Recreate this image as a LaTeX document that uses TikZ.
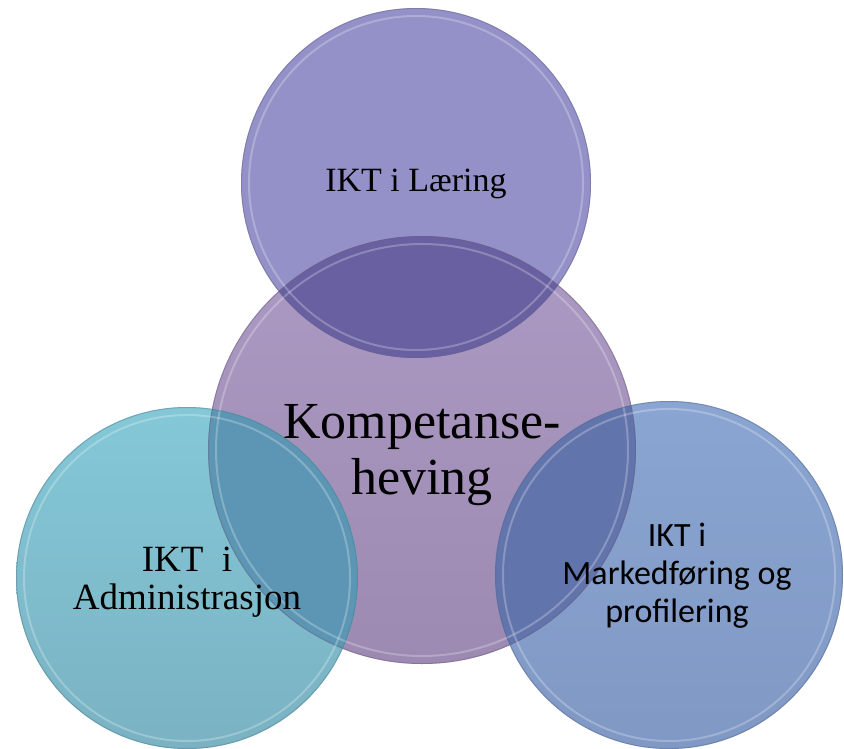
\documentclass[tikz,border=0pt]{standalone}
\usepackage{fontspec}
\setmainfont{Liberation Serif}
\newfontfamily\calibri{Carlito}
\usepackage{xcolor}
\definecolor{cmptop}{RGB}{172,154,196}
\definecolor{cmpbot}{RGB}{156,138,178}
\definecolor{lrnfill}{RGB}{148,145,200}
\definecolor{lrnlens}{RGB}{104,96,160}
\definecolor{admtop}{RGB}{132,200,215}
\definecolor{admbot}{RGB}{122,178,195}
\definecolor{admlens}{RGB}{92,150,180}
\definecolor{mkttop}{RGB}{138,165,210}
\definecolor{mktbot}{RGB}{128,152,196}
\definecolor{mktlens}{RGB}{98,116,172}

\begin{document}
\begin{tikzpicture}[x=1pt,y=-1pt,
  bubble/.style={circle,inner sep=0pt},
  rim/.style={white,opacity=.25,line width=2pt},
  edge/.style={opacity=.45,line width=1pt}]
  \useasboundingbox (0,0) rectangle (844,748);

  % the four bubbles
  \node[bubble,minimum size=428pt,top color=cmptop,bottom color=cmpbot] (cmp) at (422,450) {};
  \node[bubble,minimum size=350pt,fill=lrnfill] (lrn) at (416,183) {};
  \node[bubble,minimum size=342pt,top color=admtop,bottom color=admbot] (adm) at (187,578) {};
  \node[bubble,minimum size=348pt,top color=mkttop,bottom color=mktbot] (mkt) at (669,575) {};

  % overlaps with the middle one
  \begin{scope}
    \clip (cmp) circle[radius=214pt];
    \fill[lrnlens] (lrn) circle[radius=175pt];
    \fill[admlens] (adm) circle[radius=171pt];
    \fill[mktlens] (mkt) circle[radius=174pt];
  \end{scope}

  % glossy rims
  \foreach \n/\r/\c in {cmp/214pt/cmpbot,lrn/175pt/lrnfill,adm/171pt/admbot,mkt/174pt/mktbot} {
    \draw[rim] (\n) circle[radius=\r-8pt];
    \draw[edge,draw=\c!70!black] (\n) circle[radius=\r-.5pt];
  }

  % labels
  \node[font=\fontsize{34}{38}\selectfont] (lrntxt) at (416,184) {IKT i Læring};
  \node[align=center,font=\fontsize{52}{56}\selectfont] (cmptxt) at (422,455) {Kompetanse-\\heving};
  \node[align=center,font=\fontsize{37}{38}\selectfont] (admtxt) at (187,582) {IKT\ \ i\\Administrasjon};
  \node[align=center,font=\calibri\fontsize{34}{38}\selectfont] (mkttxt) at (677,576) {IKT i\\Markedføring og\\profilering};
\end{tikzpicture}
\end{document}
